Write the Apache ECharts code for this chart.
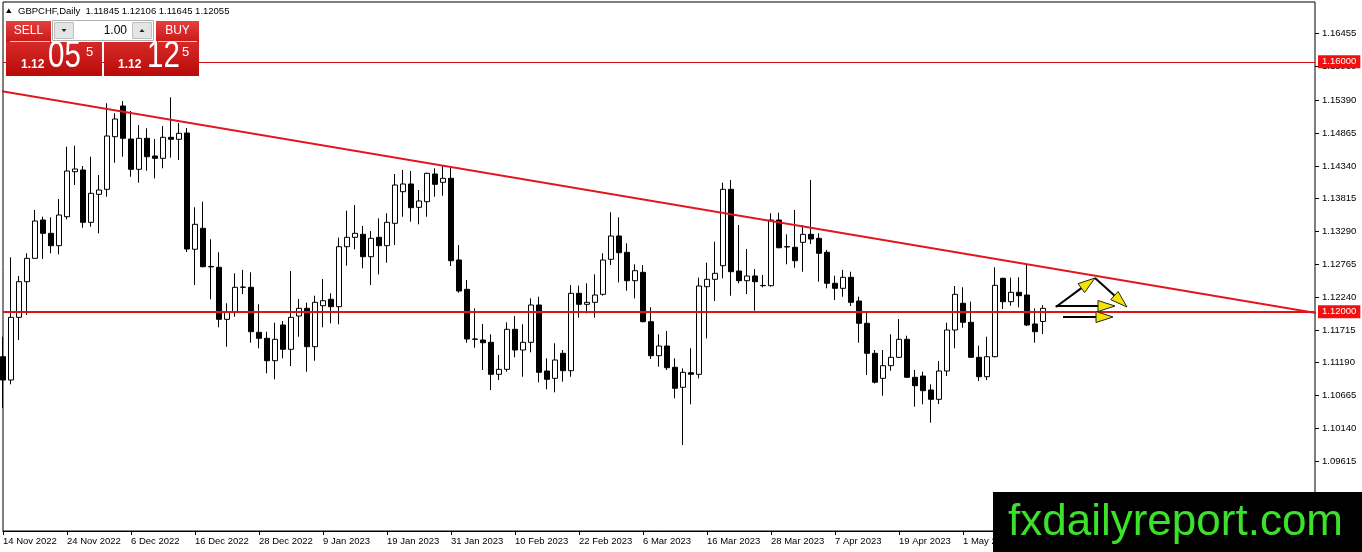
<!DOCTYPE html>
<html><head><meta charset="utf-8">
<script src="https://cdn.jsdelivr.net/npm/echarts/dist/echarts.min.js"></script>
<style>html,body{margin:0;padding:0;background:#fff;}#c{width:1362px;height:552px;}</style>
</head><body><div id="c"></div>
<script>
// ---- data (GBPCHF, Daily) ----
const opens = [
1.11281,1.10908,1.11911,1.12481,1.12855,1.13468,1.13255,1.13057,1.13521,1.14241,
1.14268,1.13431,1.13879,1.13959,1.14801,1.15292,1.14764,1.14279,1.14775,1.14492,
1.14455,1.14791,1.14759,1.14860,1.13000,1.13335,1.12725,1.12711,1.11879,1.12001,
1.12391,1.12391,1.11671,1.11575,1.11217,1.11788,1.11399,1.11932,1.12055,1.11441,
1.12097,1.12199,1.12081,1.13041,1.13191,1.13239,1.12881,1.13191,1.13057,1.13415,
1.13921,1.14044,1.13671,1.13761,1.14204,1.14071,1.14135,1.12828,1.12359,1.11564,
1.11548,1.11511,1.10999,1.11079,1.11719,1.11388,1.11511,1.12108,1.11052,1.10935,
1.11335,1.11057,1.12295,1.12119,1.12151,1.12279,1.12839,1.13212,1.12951,1.12497,
1.12631,1.11841,1.11297,1.11452,1.11111,1.10791,1.11025,1.10999,1.12401,1.12519,
1.12737,1.13959,1.12652,1.12497,1.12572,1.12417,1.12417,1.13468,1.13041,1.13031,
1.13111,1.13239,1.13175,1.12951,1.12455,1.12375,1.12551,1.12172,1.11815,1.11335,
1.10935,1.11137,1.11271,1.11559,1.10951,1.10972,1.10748,1.10599,1.11052,1.11708,
1.12135,1.11831,1.11271,1.10961,1.11281,1.12535,1.12161,1.12311,1.12268,1.11804,1.11845];
const highs = [
1.11601,1.12871,1.12572,1.12935,1.13628,1.13521,1.13511,1.13804,1.14641,1.14657,
1.14332,1.14481,1.14188,1.15335,1.15175,1.15372,1.15212,1.14988,1.14935,1.14764,
1.14972,1.15431,1.15020,1.14940,1.13671,1.13761,1.13159,1.12951,1.12135,1.12615,
1.12670,1.12631,1.12119,1.11681,1.11825,1.11852,1.12652,1.12204,1.12145,1.12257,
1.12524,1.12295,1.13185,1.13617,1.13708,1.13372,1.13292,1.13495,1.13575,1.14204,
1.14268,1.14252,1.13948,1.14225,1.14295,1.14348,1.14321,1.13068,1.12508,1.12055,
1.11804,1.11639,1.11308,1.11831,1.11932,1.11799,1.12215,1.12241,1.11255,1.11495,
1.11388,1.12428,1.12417,1.12455,1.12599,1.12935,1.13591,1.13511,1.13095,1.12759,
1.12748,1.12071,1.11639,1.11692,1.11255,1.11095,1.11415,1.12545,1.12785,1.13121,
1.14065,1.14108,1.13388,1.13004,1.12684,1.12588,1.13575,1.13585,1.13239,1.13628,
1.13388,1.14108,1.13255,1.12988,1.12577,1.12670,1.12641,1.12241,1.12001,1.11388,
1.11388,1.11639,1.11884,1.11617,1.11068,1.11041,1.10839,1.11212,1.11825,1.12412,
1.12391,1.12161,1.11457,1.11601,1.12711,1.12545,1.12545,1.12551,1.12748,1.12055,1.12106];
const lows = [
1.10460,1.10839,1.11548,1.11948,1.12850,1.12844,1.12935,1.12919,1.13479,1.14028,
1.13345,1.13361,1.13255,1.13841,1.14385,1.14481,1.14161,1.14065,1.14257,1.14135,
1.14295,1.14465,1.14428,1.12956,1.12428,1.12711,1.12199,1.11751,1.11441,1.11921,
1.12284,1.11505,1.11415,1.11015,1.10919,1.11255,1.11132,1.11601,1.11041,1.11217,
1.11751,1.11815,1.11799,1.12737,1.12999,1.12695,1.12428,1.12599,1.12785,1.13068,
1.13521,1.13441,1.13399,1.13521,1.13841,1.13857,1.12732,1.12305,1.11505,1.11425,
1.11068,1.10748,1.10908,1.11041,1.11271,1.10961,1.11351,1.10871,1.10759,1.10711,
1.10881,1.10961,1.11905,1.11975,1.11905,1.12257,1.12748,1.12471,1.12337,1.12215,
1.11830,1.11244,1.11121,1.11068,1.10615,1.09868,1.10519,1.10935,1.11575,1.12172,
1.12535,1.12257,1.12455,1.12284,1.12017,1.12391,1.12401,1.13015,1.12759,1.12705,
1.12641,1.13084,1.12481,1.12375,1.12188,1.12241,1.12092,1.11505,1.10988,1.10852,
1.10657,1.11057,1.11265,1.10945,1.10481,1.10519,1.10225,1.10524,1.10972,1.11415,
1.11745,1.11265,1.10892,1.10908,1.11271,1.12044,1.12097,1.12071,1.11772,1.11505,1.11645];
const closes = [
1.10908,1.11911,1.12481,1.12855,1.13452,1.13255,1.13057,1.13548,1.14252,1.14284,
1.13431,1.13895,1.13948,1.14812,1.15084,1.14775,1.14279,1.14775,1.14481,1.14455,
1.14791,1.14759,1.14855,1.13004,1.13399,1.12721,1.12718,1.11879,1.12001,1.12391,
1.12395,1.11681,1.11575,1.11217,1.11559,1.11399,1.11911,1.12055,1.11441,1.12151,
1.12177,1.12081,1.13041,1.13191,1.13255,1.12881,1.13175,1.13057,1.13431,1.14028,
1.14044,1.13665,1.13772,1.14215,1.14039,1.14135,1.12817,1.12332,1.11564,1.11560,
1.11505,1.10999,1.11079,1.11719,1.11388,1.11511,1.12108,1.11031,1.10919,1.11228,
1.11057,1.12295,1.12119,1.12151,1.12268,1.12828,1.13212,1.12945,1.12497,1.12657,
1.11841,1.11297,1.11452,1.11105,1.10775,1.11031,1.10999,1.12412,1.12519,1.12615,
1.13959,1.12641,1.12497,1.12572,1.12481,1.12421,1.13468,1.13025,1.13037,1.12817,
1.13239,1.13164,1.12935,1.12455,1.12375,1.12551,1.12151,1.11815,1.11335,1.10872,
1.11137,1.11271,1.11559,1.10951,1.10817,1.10737,1.10599,1.11052,1.11708,1.12279,
1.11831,1.11271,1.10961,1.11281,1.12423,1.12161,1.12311,1.12257,1.11788,1.11681,1.12055];

// date tick labels (every 8th trading day)
const tickLabels = ['14 Nov 2022','24 Nov 2022','6 Dec 2022','16 Dec 2022','28 Dec 2022','9 Jan 2023',
  '19 Jan 2023','31 Jan 2023','10 Feb 2023','22 Feb 2023','6 Mar 2023','16 Mar 2023','28 Mar 2023',
  '7 Apr 2023','19 Apr 2023','1 May 2023','11 May 2023','23 May 2023','2 Jun 2023','14 Jun 2023','26 Jun 2023'];
// right price scale tick labels
const priceTicks = [1.16455,1.15930,1.15390,1.14865,1.14340,1.13815,1.13290,1.12765,1.12240,1.11715,1.11190,1.10665,1.10140,1.09615];
// horizontal levels and bid
const levelHigh = 1.16000;
const levelLow = 1.12000;
const bidPrice = 1.12055;
// trend line (bar index, price)
const trendLine = [[-0.375, 1.15532], [164.125, 1.11980]];
// annotation arrows: [x1, y1, x2, y2] in (bar index, price)
const arrows = [
  [131.6, 1.12076, 136.5, 1.12540],
  [136.5, 1.12540, 140.5, 1.12076],
  [131.6, 1.12092, 139.0, 1.12092],
  [132.5, 1.11916, 138.75, 1.11916]
];
const header = 'GBPCHF,Daily  1.11845 1.12106 1.11645 1.12055';
const slotCount = 165;

const FONT = '"Liberation Sans", Arial, sans-serif';
const cats = Array.from({length: slotCount}, (_, i) => 'b' + i);
const candles = opens.map((o, i) => [o, closes[i], lows[i], highs[i]]);

const chart = echarts.init(document.getElementById('c'), null, {renderer: 'canvas'});

function redGrad(a, b) {
  return new echarts.graphic.LinearGradient(0, 0, 0, 1, [{offset: 0, color: a}, {offset: 1, color: b}]);
}
function txt(x, y, text, font, fill, align, sx) {
  return {type: 'text', x: x, y: y, z: 101, scaleX: sx || 1,
    style: {text: text, font: font, fill: fill, align: align || 'left', textAlign: align || 'left',
            verticalAlign: 'middle', textVerticalAlign: 'middle'}};
}

const graphics = [
  // header
  {type: 'polygon', z: 100, shape: {points: [[6, 13], [11.5, 13], [8.75, 8.5]]}, style: {fill: '#000'}},
  txt(18, 11, header, '9.5px ' + FONT, '#000'),
  // one-click panel
  {type: 'rect', z: 100, shape: {x: 6, y: 21, width: 45, height: 21}, style: {fill: redGrad('#e4403e', '#c81a19')}},
  {type: 'rect', z: 100, shape: {x: 156, y: 21, width: 43, height: 21}, style: {fill: redGrad('#e4403e', '#c81a19')}},
  {type: 'rect', z: 100, shape: {x: 6, y: 42, width: 96, height: 34}, style: {fill: redGrad('#d62a28', '#b80a0a')}},
  {type: 'rect', z: 100, shape: {x: 104, y: 42, width: 95, height: 34}, style: {fill: redGrad('#d62a28', '#b80a0a')}},
  {type: 'line', z: 101, shape: {x1: 10, y1: 41.5, x2: 50, y2: 41.5}, style: {stroke: 'rgba(255,255,255,0.75)', lineWidth: 1}},
  {type: 'line', z: 101, shape: {x1: 158, y1: 41.5, x2: 197, y2: 41.5}, style: {stroke: 'rgba(255,255,255,0.75)', lineWidth: 1}},
  {type: 'rect', z: 100, shape: {x: 52.5, y: 20.5, width: 101, height: 20}, style: {fill: '#fff', stroke: '#b0b0b0', lineWidth: 1}},
  {type: 'rect', z: 101, shape: {x: 54.5, y: 22.5, width: 19, height: 16}, style: {fill: '#e4e4e4', stroke: '#c0c0c0', lineWidth: 1}},
  {type: 'rect', z: 101, shape: {x: 132.5, y: 22.5, width: 19, height: 16}, style: {fill: '#e4e4e4', stroke: '#c0c0c0', lineWidth: 1}},
  {type: 'polygon', z: 102, shape: {points: [[61.5, 29], [66.5, 29], [64, 32]]}, style: {fill: '#222'}},
  {type: 'polygon', z: 102, shape: {points: [[139.5, 32], [144.5, 32], [142, 29]]}, style: {fill: '#222'}},
  txt(127, 30.5, '1.00', '12px ' + FONT, '#000', 'right'),
  txt(28.5, 31, 'SELL', '12px ' + FONT, '#fff', 'center'),
  txt(177.5, 31, 'BUY', '12px ' + FONT, '#fff', 'center'),
  txt(21, 65, '1.12', 'bold 12px ' + FONT, '#fff'),
  txt(48, 57, '05', '36px ' + FONT, '#fff', 'left', 0.82),
  txt(86, 52, '5', '13px ' + FONT, '#fff'),
  txt(118, 65, '1.12', 'bold 12px ' + FONT, '#fff'),
  txt(147, 57, '12', '36px ' + FONT, '#fff', 'left', 0.82),
  txt(182, 52, '5', '13px ' + FONT, '#fff'),
  // watermark
  {type: 'rect', z: 100, shape: {x: 993, y: 492, width: 369, height: 60}, style: {fill: '#000'}},
  txt(1008, 523, 'fxdailyreport.com', '44px ' + FONT, '#3be12b')
];

const option = {
  animation: false,
  backgroundColor: '#fff',
  grid: {left: 3, top: 2, width: 1312, height: 529, show: true, borderColor: '#000', borderWidth: 1, backgroundColor: 'transparent'},
  xAxis: [
    {type: 'category', data: cats, boundaryGap: false,
     axisLine: {show: true, lineStyle: {color: '#000', width: 1}},
     axisTick: {show: true, interval: 7, length: 4, lineStyle: {color: '#000'}},
     axisLabel: {show: true, interval: 7, align: 'left', margin: 5, fontSize: 9.5, fontFamily: FONT, color: '#000',
                 formatter: (v, i) => tickLabels[Math.round(i / 8)] || ''},
     splitLine: {show: false}},
    {type: 'value', min: 0, max: slotCount - 1, show: false}
  ],
  yAxis: {type: 'value', position: 'right', min: 1.08492, max: 1.16956, show: false, splitLine: {show: false}},
  graphic: {elements: graphics},
  series: [
    {type: 'custom', name: 'priceScale', xAxisIndex: 1, yAxisIndex: 0, z: 1, clip: false, silent: true,
     data: priceTicks.map(v => [0, v]),
     renderItem: function (params, api) {
       const v = api.value(1);
       const y = Math.round(api.coord([0, v])[1]) + 0.5;
       const xr = params.coordSys.x + params.coordSys.width;
       return {type: 'group', children: [
         {type: 'line', shape: {x1: xr, y1: y, x2: xr + 4, y2: y}, style: {stroke: '#000', lineWidth: 1}},
         {type: 'text', x: xr + 7, y: y, style: {text: v.toFixed(5), font: '9.5px ' + FONT, fill: '#000',
           align: 'left', verticalAlign: 'middle', textAlign: 'left', textVerticalAlign: 'middle'}}
       ]};
     }},
    {type: 'candlestick', name: 'GBPCHF', xAxisIndex: 0, yAxisIndex: 0, z: 3, data: candles, barWidth: 5,
     itemStyle: {color: '#fff', color0: '#000', borderColor: '#000', borderColor0: '#000', borderWidth: 1},
     markLine: {silent: true, symbol: ['none', 'none'], animation: false, z: 5,
       label: {show: true, position: 'end', distance: 3, fontSize: 9.5, fontFamily: FONT, color: '#fff', padding: [2, 4, 1, 4]},
       data: [
         {yAxis: bidPrice, lineStyle: {opacity: 0, width: 0}, label: {formatter: bidPrice.toFixed(5), backgroundColor: '#000'}},
         {yAxis: levelHigh, lineStyle: {color: '#d01010', width: 1, type: 'solid'}, label: {formatter: levelHigh.toFixed(5), backgroundColor: '#f01010'}},
         {yAxis: levelLow, lineStyle: {color: '#e01414', width: 2, type: 'solid'}, label: {formatter: levelLow.toFixed(5), backgroundColor: '#f01010'}}
       ]}},
    {type: 'line', name: 'trend', xAxisIndex: 1, yAxisIndex: 0, z: 4, data: trendLine, symbol: 'none', clip: false, silent: true,
     lineStyle: {color: '#e3141c', width: 2}},
    {type: 'custom', name: 'arrows', xAxisIndex: 1, yAxisIndex: 0, z: 6, clip: false, silent: true,
     dimensions: ['x1', 'y1', 'x2', 'y2'], encode: {x: [0, 2], y: [1, 3]},
     data: arrows,
     renderItem: function (params, api) {
       const a = api.coord([api.value(0), api.value(1)]);
       const b = api.coord([api.value(2), api.value(3)]);
       const dx = b[0] - a[0], dy = b[1] - a[1];
       const len = Math.sqrt(dx * dx + dy * dy) || 1;
       const ux = dx / len, uy = dy / len;
       const L = 17, W = 5.5;
       const bx = b[0] - ux * L, by = b[1] - uy * L;
       const px = -uy, py = ux;
       return {type: 'group', children: [
         {type: 'line', shape: {x1: a[0], y1: a[1], x2: bx + ux * 3, y2: by + uy * 3}, style: {stroke: '#000', lineWidth: 2}},
         {type: 'polygon', shape: {points: [[b[0], b[1]], [bx + px * W, by + py * W], [bx - px * W, by - py * W]]},
          style: {fill: '#f2e400', stroke: '#222', lineWidth: 1}}
       ]};
     }}
  ]
};
chart.setOption(option);
</script>
</body></html>
